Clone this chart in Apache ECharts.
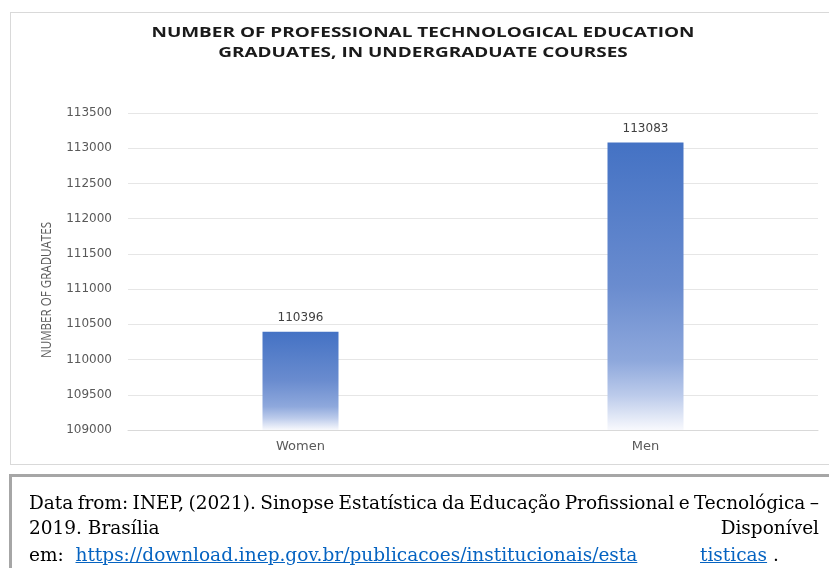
<!DOCTYPE html>
<html>
<head>
<meta charset="utf-8">
<script src="https://cdn.jsdelivr.net/npm/echarts@6/dist/echarts.min.js"></script>
<style>
  html, body { margin: 0; padding: 0; background: #ffffff; }
  body { width: 829px; height: 568px; position: relative; overflow: hidden; }
  #chart { position: absolute; left: 0; top: 0; width: 829px; height: 470px; }
  #panel { position: absolute; left: 10px; top: 12px; width: 840px; height: 453px;
           border: 1px solid #d9d9d9; box-sizing: border-box; pointer-events: none; }
  #source { position: absolute; left: 9px; top: 474px; width: 840px; height: 120px;
            border-top: 3px solid #a6a6a6; border-left: 3px solid #a6a6a6; box-sizing: border-box; }
  .line { position: absolute; left: 17px; width: 790px; height: 26px;
          font-family: "DejaVu Serif", serif; font-size: 18.5px; color: #000;
          white-space: nowrap; line-height: 26px; }
  .just { display: flex; justify-content: space-between; }
  a { color: #0563C1; text-decoration: underline; }
  #tail { position: absolute; left: 671px; top: 0; }
</style>
</head>
<body>
<div id="chart"></div>
<div id="panel"></div>
<div id="source">
  <div class="line just" id="l1" style="top:13px"></div>
  <div class="line just" id="l2" style="top:38px"><span>2019. Brasília</span><span>Disponível</span></div>
  <div class="line" id="l3" style="top:65px">em:&nbsp; <a href="#">https://download.inep.gov.br/publicacoes/institucionais/esta</a><span id="tail"><a href="#">tisticas</a> .</span></div>
</div>
<script>
// Graduates by sex, undergraduate professional/technological courses (2019)
const categories = ['Women', 'Men'];
const graduates = [110396, 113083];
const axisMin = 109000;
const axisMax = 113500;
const axisStep = 500;

const titleLines = ['NUMBER OF PROFESSIONAL TECHNOLOGICAL EDUCATION', 'GRADUATES, IN UNDERGRADUATE COURSES'];
const axisName = 'NUMBER OF GRADUATES';
const sourceLine1 = 'Data from: INEP, (2021). Sinopse Estatística da Educação Profissional e Tecnológica –';

// first source line spread edge to edge word by word
document.getElementById('l1').innerHTML = sourceLine1.split(' ').map(w => '<span>' + w + '</span>').join('');

// text width helper, used to stretch headings to their drawn length
const measureCtx = document.createElement('canvas').getContext('2d');
function textWidth(text, font) {
  measureCtx.font = font;
  return measureCtx.measureText(text).width;
}

const titleFont = 'bold 14.5px "Open Sans"';
const titleScale = 543 / textWidth(titleLines[0], titleFont);
const nameFont = '15px "Open Sans"';
const nameScale = 136 / textWidth(axisName, nameFont);

const chart = echarts.init(document.getElementById('chart'), null, { renderer: 'canvas' });

const titleGraphics = titleLines.map((line, i) => ({
  type: 'text',
  x: 423,
  y: 33 + i * 20,
  scaleX: titleScale,
  style: {
    text: line,
    font: titleFont,
    fill: '#1a1a1a',
    align: 'center',
    verticalAlign: 'middle'
  }
}));

chart.setOption({
  animation: false,
  grid: { left: 128, right: 11, top: 113, bottom: 40 },
  xAxis: {
    type: 'category',
    data: categories,
    axisLine: { lineStyle: { color: '#d9d9d9', width: 1 } },
    axisTick: { show: false },
    axisLabel: {
      margin: 10,
      fontFamily: 'DejaVu Sans',
      fontSize: 13,
      color: '#595959'
    }
  },
  yAxis: {
    type: 'value',
    min: axisMin,
    max: axisMax,
    interval: axisStep,
    axisLine: { show: false },
    axisTick: { show: false },
    splitLine: { lineStyle: { color: '#e6e6e6', width: 1 } },
    axisLabel: {
      margin: 16,
      fontFamily: 'DejaVu Sans',
      fontSize: 12,
      color: '#595959',
      formatter: v => String(v)
    }
  },
  graphic: titleGraphics.concat([{
    type: 'text',
    x: 47,
    y: 290,
    rotation: Math.PI / 2,
    scaleX: nameScale,
    style: {
      text: axisName,
      font: nameFont,
      fill: '#595959',
      align: 'center',
      verticalAlign: 'middle'
    }
  }]),
  series: [{
    type: 'bar',
    data: graduates,
    barWidth: 76,
    itemStyle: {
      color: new echarts.graphic.LinearGradient(0, 0, 0, 1, [
        { offset: 0, color: '#4472C4' },
        { offset: 0.5, color: '#6a8ccf' },
        { offset: 0.76, color: '#8ea8dc' },
        { offset: 0.88, color: '#bccbeb' },
        { offset: 1, color: '#f8f9fd' }
      ])
    },
    label: {
      show: true,
      position: 'top',
      distance: 8,
      fontFamily: 'DejaVu Sans',
      fontSize: 12,
      color: '#404040'
    }
  }]
});
</script>
</body>
</html>
